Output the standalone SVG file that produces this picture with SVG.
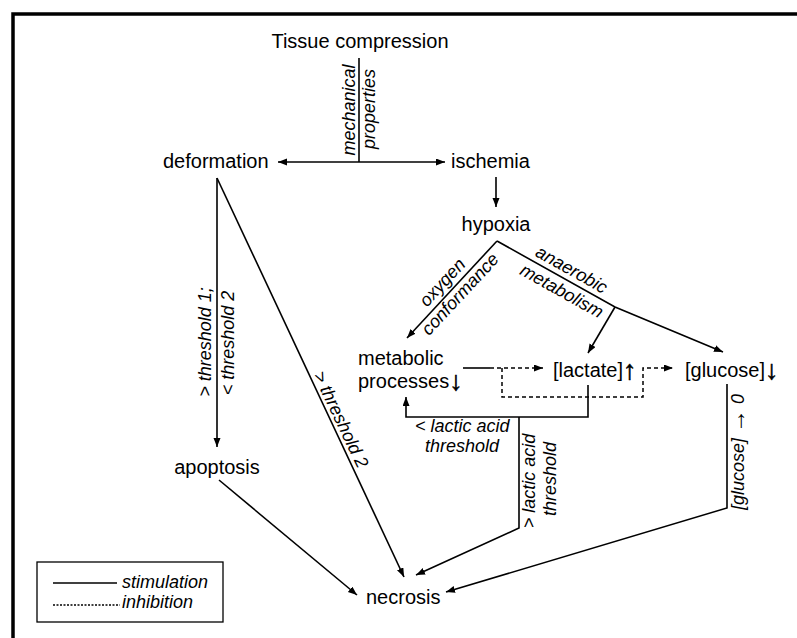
<svg xmlns="http://www.w3.org/2000/svg" width="797" height="638" viewBox="0 0 797 638">
<style>
.n{font-family:"Liberation Sans",Arial,sans-serif;font-size:20px;fill:#000}
.l{font-family:"Liberation Sans",Arial,sans-serif;font-size:18px;font-style:italic;fill:#000}
.b{font-family:"Liberation Sans",Arial,sans-serif;font-weight:bold;font-size:27px;stroke:#000;stroke-width:0.6}
.r{font-style:normal;font-weight:bold;font-size:24px}
.c{fill:none;stroke:#000;stroke-width:1.6}
.d{fill:none;stroke:#000;stroke-width:1.5;stroke-dasharray:4,3}
</style>
<defs>
<marker id="a" markerUnits="userSpaceOnUse" markerWidth="10" markerHeight="8" refX="9" refY="3.5" orient="auto-start-reverse">
<path d="M0,0 L9,3.5 L0,7 z" fill="#000"/>
</marker>
</defs>
<rect width="797" height="638" fill="#fff"/>
<g id="frame">
<path d="M13,638 V14 H797" fill="none" stroke="#000" stroke-width="3.5"/>
</g>
<g id="connectors">
<path class="c" d="M359,58 V162"/>
<path class="c" d="M278,162 H445" marker-start="url(#a)" marker-end="url(#a)"/>
<path class="c" d="M496,177 V207" marker-end="url(#a)"/>
<path class="c" d="M497,241 L407,338" marker-end="url(#a)"/>
<path class="c" d="M497,241 L615,307 L723,352" marker-end="url(#a)"/>
<path class="c" d="M615,307 L588,353" marker-end="url(#a)"/>
<path class="c" d="M463,368 H490"/>
<path class="d" d="M490,368 H543" marker-end="url(#a)"/>
<path class="d" d="M502,368 V397 H643 V368 H673" marker-end="url(#a)"/>
<path class="c" d="M588,385 V417 H406 V397" marker-end="url(#a)"/>
<path class="c" d="M519,417 V528 L416,575" marker-end="url(#a)"/>
<path class="c" d="M727,384 V508 L446,592" marker-end="url(#a)"/>
<path class="c" d="M217,178 V447" marker-end="url(#a)"/>
<path class="c" d="M217,178 L404,577" marker-end="url(#a)"/>
<path class="c" d="M219,480 L357,595" marker-end="url(#a)"/>
</g>
<g id="labels">
<text class="l" text-anchor="middle" transform="translate(355,110) rotate(-90)">mechanical</text>
<text class="l" text-anchor="middle" transform="translate(375,109) rotate(-90)">properties</text>
<text class="l" text-anchor="middle" transform="translate(211,342) rotate(-90)">&gt; threshold 1;</text>
<text class="l" text-anchor="middle" transform="translate(234,343) rotate(-90)">&lt; threshold 2</text>
<text class="l" transform="translate(313,375) rotate(64.5)">&gt; threshold 2</text>
<text class="l" text-anchor="middle" transform="translate(446.7,286.4) rotate(-47.1)">oxygen</text>
<text class="l" text-anchor="middle" transform="translate(464.5,298.1) rotate(-47.1)">conformance</text>
<text class="l" text-anchor="middle" transform="translate(568.7,274.8) rotate(29.2)">anaerobic</text>
<text class="l" text-anchor="middle" transform="translate(558.9,296.2) rotate(29.2)">metabolism</text>
<text class="l" x="415" y="432">&lt; lactic acid</text>
<text class="l" x="425" y="452">threshold</text>
<text class="l" text-anchor="middle" transform="translate(535,481) rotate(-90)">&gt; lactic acid</text>
<text class="l" text-anchor="middle" transform="translate(556,479) rotate(-90)">threshold</text>
<text class="l" text-anchor="middle" transform="translate(744,452) rotate(-90)">[glucose] <tspan class="r" dy="1">→</tspan><tspan dy="-1"> 0</tspan></text>
</g>
<g id="tissue"><text class="n" x="360" y="48" text-anchor="middle">Tissue compression</text></g>
<g id="deformation"><text class="n" x="163" y="168">deformation</text></g>
<g id="ischemia"><text class="n" x="451" y="168">ischemia</text></g>
<g id="hypoxia"><text class="n" x="496" y="231" text-anchor="middle">hypoxia</text></g>
<g id="metabolic"><text class="n" x="358" y="365">metabolic</text><text class="n" x="358" y="388">processes<tspan class="b" dy="2">↓</tspan></text></g>
<g id="lactate"><text class="n" x="553" y="377">[lactate]<tspan class="b" dy="2">↑</tspan></text></g>
<g id="glucose"><text class="n" x="685" y="377">[glucose]<tspan class="b" dy="2">↓</tspan></text></g>
<g id="apoptosis"><text class="n" x="217" y="474" text-anchor="middle">apoptosis</text></g>
<g id="necrosis"><text class="n" x="366" y="604">necrosis</text></g>
<g id="legend">
<rect x="37" y="562" width="186" height="60" fill="none" stroke="#000" stroke-width="1.3"/>
<path class="c" d="M53,583 H117"/>
<text class="l" x="122" y="588">stimulation</text>
<path d="M53,605 H120" fill="none" stroke="#000" stroke-width="1.3" stroke-dasharray="2,1.5"/>
<text class="l" x="122" y="608">inhibition</text>
</g>
</svg>
